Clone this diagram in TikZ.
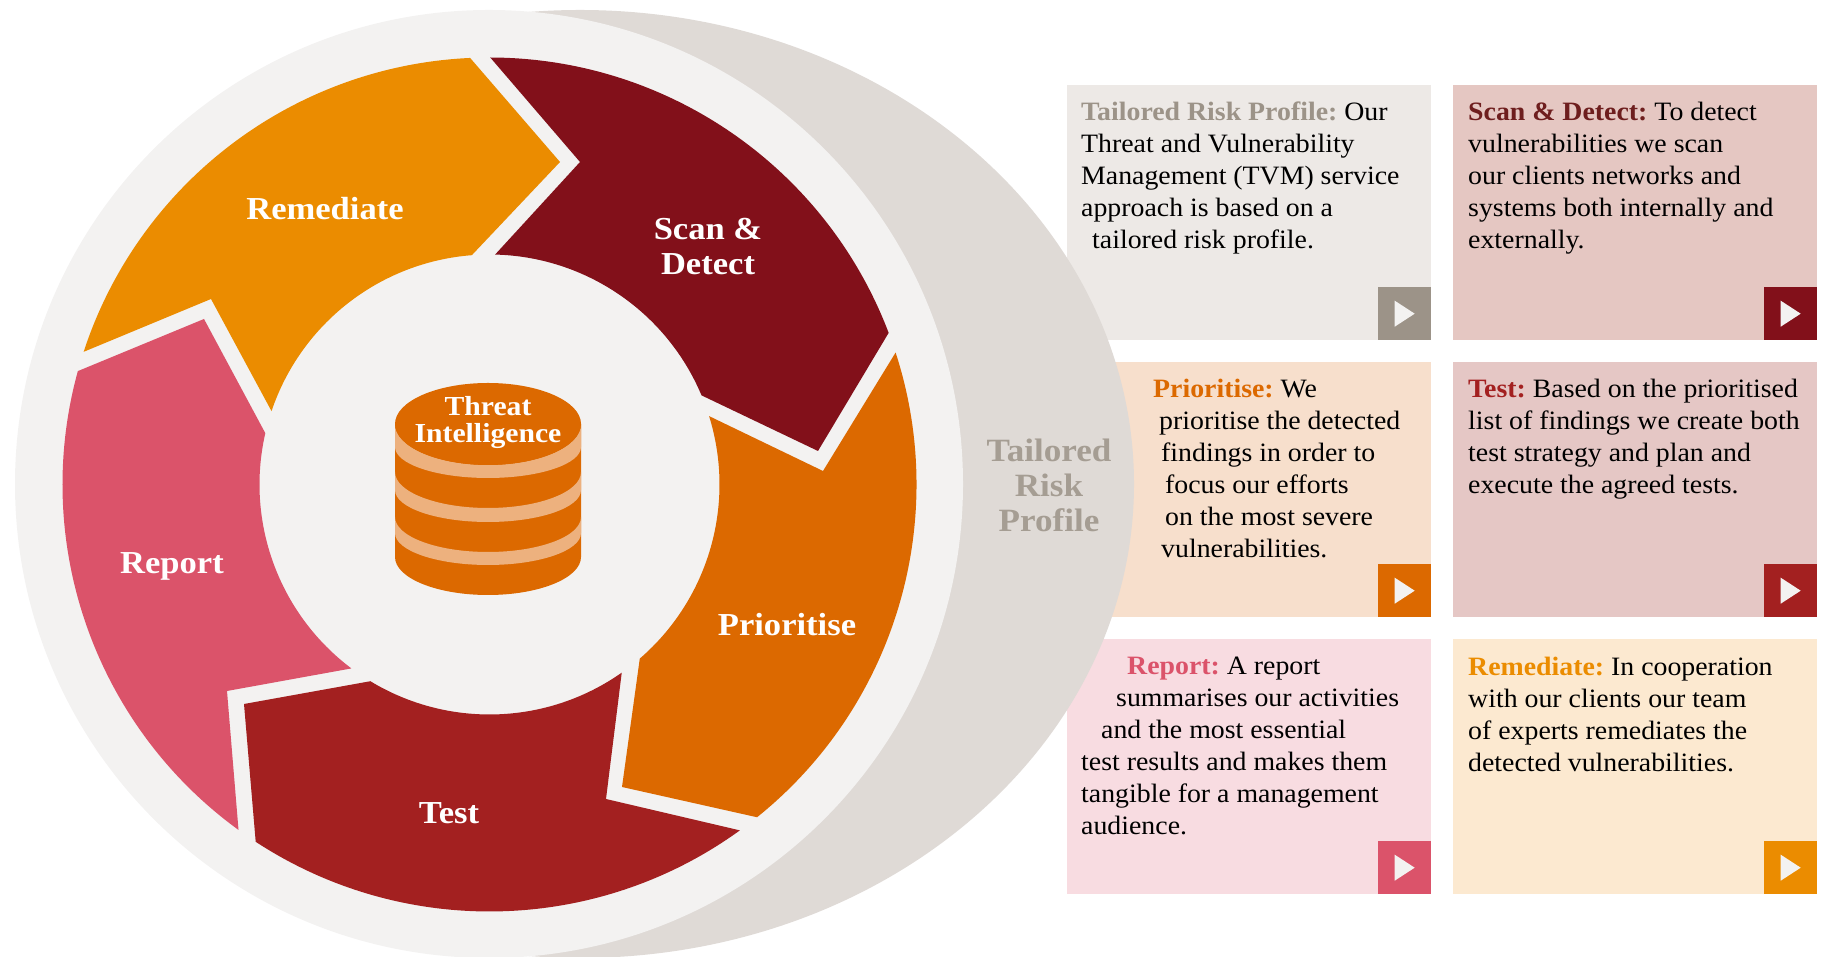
\documentclass[tikz,border=0pt]{standalone}
\usepackage{fontspec}
\setmainfont[FakeStretch=1.05]{Liberation Serif}
\newfontfamily\labelfont[FakeStretch=1.08]{Liberation Serif}
\usepackage{tikz}

\definecolor{discback}{HTML}{DFDAD6}
\definecolor{discfront}{HTML}{F3F2F1}
\definecolor{risk}{HTML}{9C9388}
\definecolor{risklabel}{HTML}{A59D93}
\definecolor{scan}{HTML}{82101A}
\definecolor{scanlabel}{HTML}{6E1E1E}
\definecolor{prior}{HTML}{DC6900}
\definecolor{test}{HTML}{A32020}
\definecolor{report}{HTML}{DB536A}
\definecolor{remed}{HTML}{EB8C00}
\definecolor{band}{HTML}{EDB17E}

\tikzset{
  segment label/.style={text=white, font=\labelfont\fontsize{32}{35}\selectfont\bfseries, align=center},
  info box/.style={anchor=north west, minimum width=364pt, minimum height=255pt, inner sep=0pt},
  play box/.style={anchor=south east, minimum width=53pt, minimum height=53pt, inner sep=0pt},
  info text/.style={anchor=north west, inner sep=0pt, align=left, font=\fontsize{26.5}{32}\selectfont\frenchspacing},
}

\begin{document}
\begin{tikzpicture}[x=1pt, y=1pt]
    \useasboundingbox (0, 0) rectangle (1823, 957);

    % Boxes on the right
    \foreach \name/\x/\y/\shade/\tip in {
        riskbox/1067/872/EDE9E6/risk, scanbox/1453/872/E5C7C2/scan,
        priorbox/1067/595/F7DFCC/prior, testbox/1453/595/E5C7C5/test,
        reportbox/1067/318/F8DCE1/report, remedbox/1453/318/FCE9D0/remed} {
      \definecolor{shade}{HTML}{\shade}
      \node[info box, fill=shade] (\name) at (\x, \y) {};
      \node[play box, fill=\tip] (\name play) at (\name.south east) {};
      \fill[discfront] ([xshift=-10pt, yshift=13pt]\name play.center)
        -- ([xshift=-10pt, yshift=-13pt]\name play.center)
        -- ([xshift=10pt]\name play.center) -- cycle;
    }

    % The two discs
    \fill[discback] (580, 473) ellipse [x radius=554, y radius=474];
    \fill[discfront] (489, 473) circle [radius=474];

    \coordinate (c) at (489.5, 472.5);

    % Segments of the ring
    \fill[remed] ([shift={(161.9:427)}]c) arc [start angle=161.9, end angle=92.6, radius=427]
      -- (560, 795) -- ([shift={(94.4:230)}]c) arc [start angle=94.4, end angle=161.4, radius=230]
      -- (211, 658) -- cycle;
    \fill[scan] ([shift={(89.9:427)}]c) arc [start angle=89.9, end angle=20.8, radius=427]
      -- (818, 506) -- ([shift={(22.8:230)}]c) arc [start angle=22.8, end angle=88.6, radius=230]
      -- (580, 795) -- cycle;
    \fill[prior] ([shift={(18:427)}]c) arc [start angle=18, end angle=-51.2, radius=427]
      -- (622, 170) -- ([shift={(-49.2:230)}]c) arc [start angle=-49.2, end angle=17.3, radius=230]
      -- (823, 486) -- cycle;
    \fill[test] ([shift={(-54.1:427)}]c) arc [start angle=-54.1, end angle=-123.2, radius=427]
      -- (244, 253) -- ([shift={(-121.2:230)}]c) arc [start angle=-121.2, end angle=-54.9, radius=230]
      -- (606, 158) -- cycle;
    \fill[report] ([shift={(234:427)}]c) arc [start angle=234, end angle=164.6, radius=427]
      -- (204, 638) -- ([shift={(167.1:230)}]c) arc [start angle=167.1, end angle=233.1, radius=230]
      -- (227, 266) -- cycle;

    % The cylinder
    \fill[prior] (395, 533) -- (395, 400) arc [start angle=180, end angle=360, x radius=93, y radius=38]
      -- (581, 533) -- cycle;
    \foreach \ya/\ra/\yb/\rb in {533/41/510/31, 485/36/467/32, 440/35/424/32} {
      \fill[band] (395, \ya) arc [start angle=180, end angle=360, x radius=93, y radius=\ra]
        -- (581, \yb) arc [start angle=360, end angle=180, x radius=93, y radius=\rb] -- cycle;
    }
    \fill[prior] (488, 533) ellipse [x radius=93, y radius=41];

    % Labels
    \node[segment label] (remediate) at (325, 748) {Remediate};
    \node[segment label] (scandetect) at (708, 710) {Scan \&\\Detect};
    \node[segment label] (prioritise) at (787, 332) {Prioritise};
    \node[segment label] (report) at (172, 391) {Report};
    \node[segment label] (test) at (449, 143.5) {Test};
    \node[segment label, font=\labelfont\fontsize{27.5}{27}\selectfont\bfseries] (threat) at (488, 534) {Threat\\Intelligence};
    \node[segment label, text=risklabel, font=\labelfont\fontsize{32.5}{35}\selectfont\bfseries] (tailored) at (1049, 472)
      {Tailored\\Risk\\Profile};

    % Texts of the boxes
    \node[info text] (risktext) at (1081, 855) {\textbf{\textcolor{risk}{Tailored Risk Profile:}} Our\\
      Threat and Vulnerability\\Management (TVM) service\\approach is based on a\\
      \hspace*{11pt}tailored risk profile.};
    \node[info text] (scantext) at (1468, 855) {\textbf{\textcolor{scanlabel}{Scan \& Detect:}} To detect\\
      vulnerabilities we scan\\our clients networks and\\systems both internally and\\externally.};
    \node[info text] (priortext) at (1153, 578) {\textbf{\textcolor{prior}{Prioritise:}} We\\
      \hspace*{6pt}prioritise the detected\\\hspace*{8pt}findings in order to\\
      \hspace*{12pt}focus our efforts\\\hspace*{12pt}on the most severe\\\hspace*{8pt}vulnerabilities.};
    \node[info text] (testtext) at (1468, 578) {\textbf{\textcolor{test}{Test:}} Based on the prioritised\\
      list of findings we create both\\test strategy and plan and\\execute the agreed tests.};
    \node[info text] (reporttext) at (1081, 300) {\hspace*{46pt}\textbf{\textcolor{report}{Report:}} A report\\
      \hspace*{35pt}summarises our activities\\\hspace*{20pt}and the most essential\\
      test results and makes them\\tangible for a management\\audience.};
    \node[info text] (remedtext) at (1468, 300) {\textbf{\textcolor{remed}{Remediate:}} In cooperation\\
      with our clients our team\\of experts remediates the\\detected vulnerabilities.};
\end{tikzpicture}
\end{document}
